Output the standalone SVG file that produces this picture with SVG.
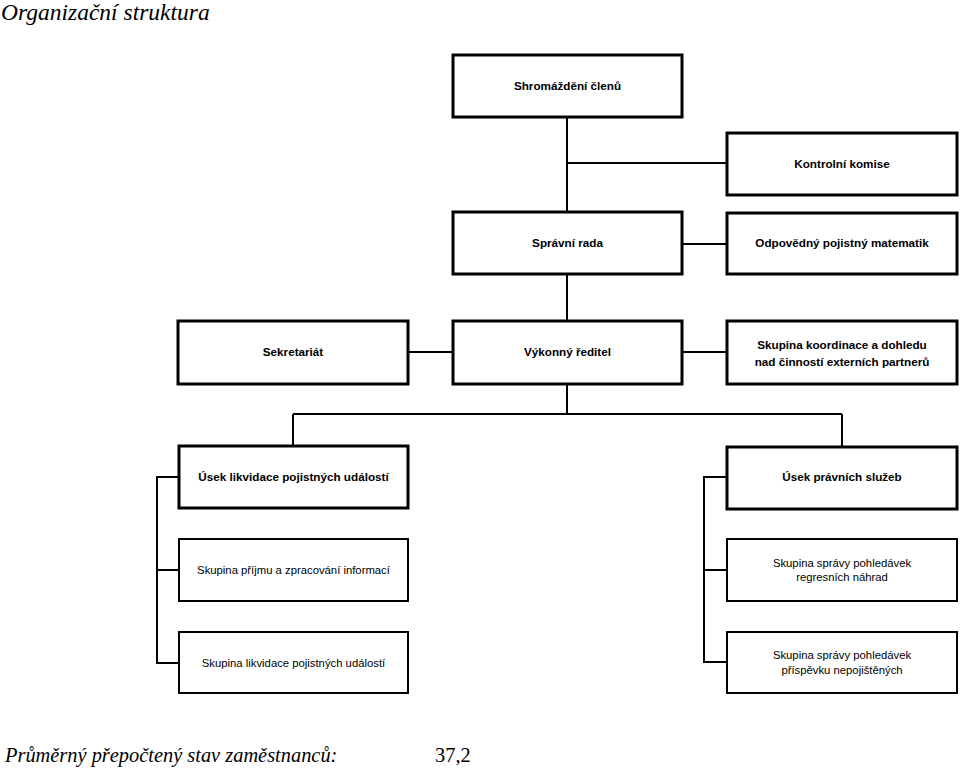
<svg xmlns="http://www.w3.org/2000/svg" width="960" height="769" viewBox="0 0 960 769">
<style>
.b{fill:#fff;stroke:#000;stroke-width:3}
.t{fill:#fff;stroke:#000;stroke-width:2}
.c{fill:none;stroke:#000;stroke-width:2}
.l{font-family:"Liberation Sans",Arial,sans-serif;font-size:11.7px;text-anchor:middle;fill:#000}
.r{font-size:11.3px}
.bl{font-weight:bold}
.h{font-family:"Liberation Serif","Times New Roman","DejaVu Serif",serif;fill:#000}
</style>
<rect width="960" height="769" fill="#fff"/>
<text class="h" x="1" y="20" font-size="23.5" font-style="italic">Organizační struktura</text>
<g id="connectors">
<path class="c" d="M567 117V213M567 163H727M682 244H727M567 274V321M408 352H453M682 352H727M567 384V414M293 414H842M293 414V446M842 414V447"/>
<path class="c" d="M179 477H157V663H179M157 570H179M727 477H704V662H727M704 570H727"/>
</g>
<g id="n1"><rect class="b" x="453" y="55" width="229" height="62"/><text class="l bl" x="567.5" y="90">Shromáždění členů</text></g>
<g id="n2"><rect class="b" x="727" y="133" width="230" height="62"/><text class="l bl" x="842" y="168">Kontrolní komise</text></g>
<g id="n3"><rect class="b" x="453" y="212" width="229" height="62"/><text class="l bl" x="567.5" y="247">Správní rada</text></g>
<g id="n4"><rect class="b" x="727" y="213" width="230" height="61"/><text class="l bl" x="842" y="247">Odpovědný pojistný matematik</text></g>
<g id="n5"><rect class="b" x="178" y="321" width="230" height="63"/><text class="l bl" x="293" y="356">Sekretariát</text></g>
<g id="n6"><rect class="b" x="453" y="321" width="229" height="63"/><text class="l bl" x="567.5" y="356">Výkonný ředitel</text></g>
<g id="n7"><rect class="b" x="727" y="321" width="230" height="63"/><text class="l bl" x="842" y="349">Skupina koordinace a dohledu</text><text class="l bl" x="842" y="366">nad činností externích partnerů</text></g>
<g id="n8"><rect class="b" x="179" y="446" width="229" height="62"/><text class="l bl" x="293.5" y="481">Úsek likvidace pojistných událostí</text></g>
<g id="n9"><rect class="b" x="727" y="447" width="230" height="62"/><text class="l bl" x="842" y="481">Úsek právních služeb</text></g>
<g id="n10"><rect class="t" x="179" y="539" width="229" height="62"/><text class="l r" x="293.5" y="574">Skupina příjmu a zpracování informací</text></g>
<g id="n11"><rect class="t" x="179" y="632" width="229" height="61"/><text class="l r" x="293.5" y="667">Skupina likvidace pojistných událostí</text></g>
<g id="n12"><rect class="t" x="727" y="539" width="230" height="62"/><text class="l r" x="842" y="567">Skupina správy pohledávek</text><text class="l r" x="842" y="581">regresních náhrad</text></g>
<g id="n13"><rect class="t" x="727" y="632" width="230" height="61"/><text class="l r" x="842" y="659">Skupina správy pohledávek</text><text class="l r" x="842" y="674">příspěvku nepojištěných</text></g>
<text class="h" x="5" y="762" font-size="20.4" font-style="italic">Průměrný přepočtený stav zaměstnanců:</text>
<text class="h" x="435" y="762" font-size="20.4">37,2</text>
</svg>
